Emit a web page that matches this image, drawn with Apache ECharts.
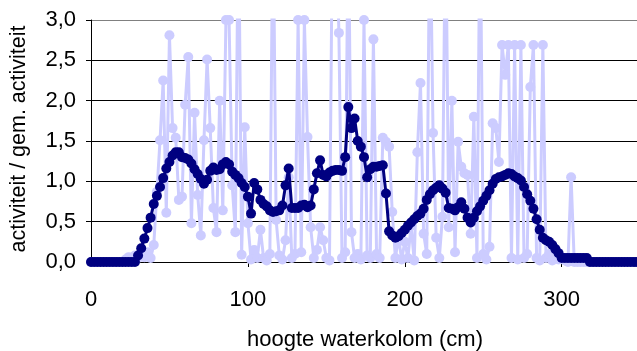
<!DOCTYPE html>
<html>
<head>
<meta charset="utf-8">
<script src="https://cdn.jsdelivr.net/npm/echarts@6/dist/echarts.min.js"></script>
<style>
html,body{margin:0;padding:0;background:#fff;}
#chart{width:637px;height:351px;}
</style>
</head>
<body>
<div id="chart"></div>
<script>
// heights sampled every 2 cm (0 .. 348 cm)
const STEP = 2;
const xTicks = [0, 100, 200, 300];
const yTickLabels = ['0,0','0,5','1,0','1,5','2,0','2,5','3,0'];
const xTitle = 'hoogte waterkolom (cm)';
const yTitle = 'activiteit / gem. activiteit';

// dark series (smoothed relative activity)
const darkValues = [
  0,0,0,0,0,0,0,0,0,0,
  0,0,0,0,0,0.08,0.17,0.29,0.42,0.55,
  0.72,0.82,0.93,1.04,1.16,1.24,1.32,1.36,1.36,1.30,
  1.29,1.27,1.22,1.15,1.09,1.03,0.97,1.02,1.13,1.17,
  1.14,1.15,1.21,1.24,1.21,1.12,1.08,1.04,0.98,0.93,
  0.81,0.60,0.98,0.90,0.77,0.72,0.69,0.64,0.62,0.63,
  0.64,0.70,0.95,1.16,0.67,0.67,0.67,0.70,0.71,0.68,
  0.70,0.90,1.10,1.26,1.08,1.06,1.11,1.13,1.14,1.14,
  1.13,1.30,1.92,1.66,1.78,1.50,1.43,1.30,1.05,1.15,
  1.18,1.18,1.19,1.20,0.85,0.38,0.33,0.30,0.32,0.36,
  0.40,0.45,0.49,0.53,0.57,0.60,0.66,0.77,0.84,0.89,
  0.92,0.95,0.91,0.86,0.67,0.66,0.64,0.68,0.74,0.66,
  0.55,0.49,0.55,0.63,0.69,0.76,0.82,0.89,0.97,1.03,
  1.05,1.06,1.08,1.10,1.09,1.06,1.04,1.01,0.93,0.84,
  0.76,0.66,0.53,0.40,0.30,0.27,0.25,0.21,0.16,0.11,
  0.05,0.05,0.05,0.05,0.05,0.05,0.05,0.05,0.05,0,
  0,0,0,0,0,0,0,0,0,0,
  0,0,0,0,0
];

// light series (raw relative activity, values above 3 run off the top)
const lightValues = [
  0,0,0,0,0,0,0,0,0,0,
  0,0.03,0.06,0.04,0.08,0.05,0.10,0.06,0.12,0.05,
  0.21,0.87,1.51,2.25,0.61,2.81,1.66,1.54,0.77,0.81,
  1.95,2.54,0.48,1.85,0.83,0.33,1.51,2.51,1.66,0.67,
  0.37,2.0,0.64,3.0,3.0,0.95,0.37,4.5,0.09,1.67,
  0.48,0.03,0.15,0.05,0.40,0.05,0.02,0.10,4.5,0.52,
  0.08,0.03,0.27,1.05,0.05,0.10,3.0,0.12,3.0,1.55,
  0.43,0.05,0.15,0.43,0.27,0.05,0.02,4.5,4.5,2.84,
  0.05,0.12,4.5,0.37,0.05,0.10,0.03,3.0,0.08,0.05,
  2.76,0.10,0.05,1.54,1.49,1.43,0.62,0.05,0.30,0.03,
  0.25,0.05,0.45,0.02,1.36,2.22,0.35,0.10,4.5,1.60,
  0.30,0.05,0.56,4.5,0.43,2.0,0.12,1.49,1.18,1.10,
  1.08,0.35,1.80,0.05,4.5,0.10,0.03,0.19,1.72,1.66,
  1.24,2.69,2.32,2.69,0.05,2.69,0.03,2.69,0.05,0.10,
  2.17,2.69,0.05,0.02,2.69,0.05,0.10,0.02,0.05,0.03,
  0.06,0.02,0,1.05,0,0,0,0,0,0,
  0,0,0,0,0,0,0,0,0,0,
  0,0,0,0,0
];

const heights = darkValues.map((_, i) => i * STEP);
const darkData = heights.map((h, i) => [h, darkValues[i]]);
const lightData = heights.map((h, i) => [h, lightValues[i]]);

const FONT = '"Liberation Sans", Arial, sans-serif';
const chart = echarts.init(document.getElementById('chart'), null, {renderer: 'canvas'});
chart.setOption({
  animation: false,
  backgroundColor: '#fff',
  grid: {left: 91, right: 0, top: 20, bottom: 89},
  xAxis: {
    type: 'value', min: 0, max: 348,
    axisLine: {show: true, lineStyle: {color: '#000', width: 1}},
    axisTick: {show: true, length: 5, lineStyle: {color: '#000'}, customValues: xTicks},
    axisLabel: {customValues: xTicks, color: '#000', fontSize: 22, fontFamily: FONT, margin: 27},
    splitLine: {show: false}
  },
  yAxis: {
    type: 'value', min: 0, max: 3, interval: 0.5,
    axisLine: {show: true, lineStyle: {color: '#000', width: 1}},
    axisTick: {show: true, length: 5, lineStyle: {color: '#000'}},
    axisLabel: {
      color: '#000', fontSize: 22, fontFamily: FONT, margin: 15,
      formatter: (v) => yTickLabels[Math.round(v * 2)]
    },
    splitLine: {show: true, lineStyle: {color: ['#000','#000','#000','#000','#000','#000','#808080'], width: 1}}
  },
  series: [
    {
      type: 'line', data: lightData, clip: true,
      symbol: 'circle', symbolSize: 10, showSymbol: true, showAllSymbol: true,
      lineStyle: {color: '#ccccff', width: 3},
      itemStyle: {color: '#ccccff', borderWidth: 0},
      z: 2
    },
    {
      type: 'line', data: darkData, clip: true,
      symbol: 'circle', symbolSize: 10, showSymbol: true, showAllSymbol: true,
      lineStyle: {color: '#000080', width: 3},
      itemStyle: {color: '#000080', borderWidth: 0},
      z: 3
    }
  ],
  graphic: [
    {type: 'text', x: 365, y: 340, style: {text: xTitle, font: '22px ' + FONT, fill: '#000', align: 'center', verticalAlign: 'middle'}},
    {type: 'text', x: 19, y: 139, rotation: Math.PI / 2, style: {text: yTitle, font: '21.5px ' + FONT, fill: '#000', align: 'center', verticalAlign: 'middle'}}
  ]
});
</script>
</body>
</html>
